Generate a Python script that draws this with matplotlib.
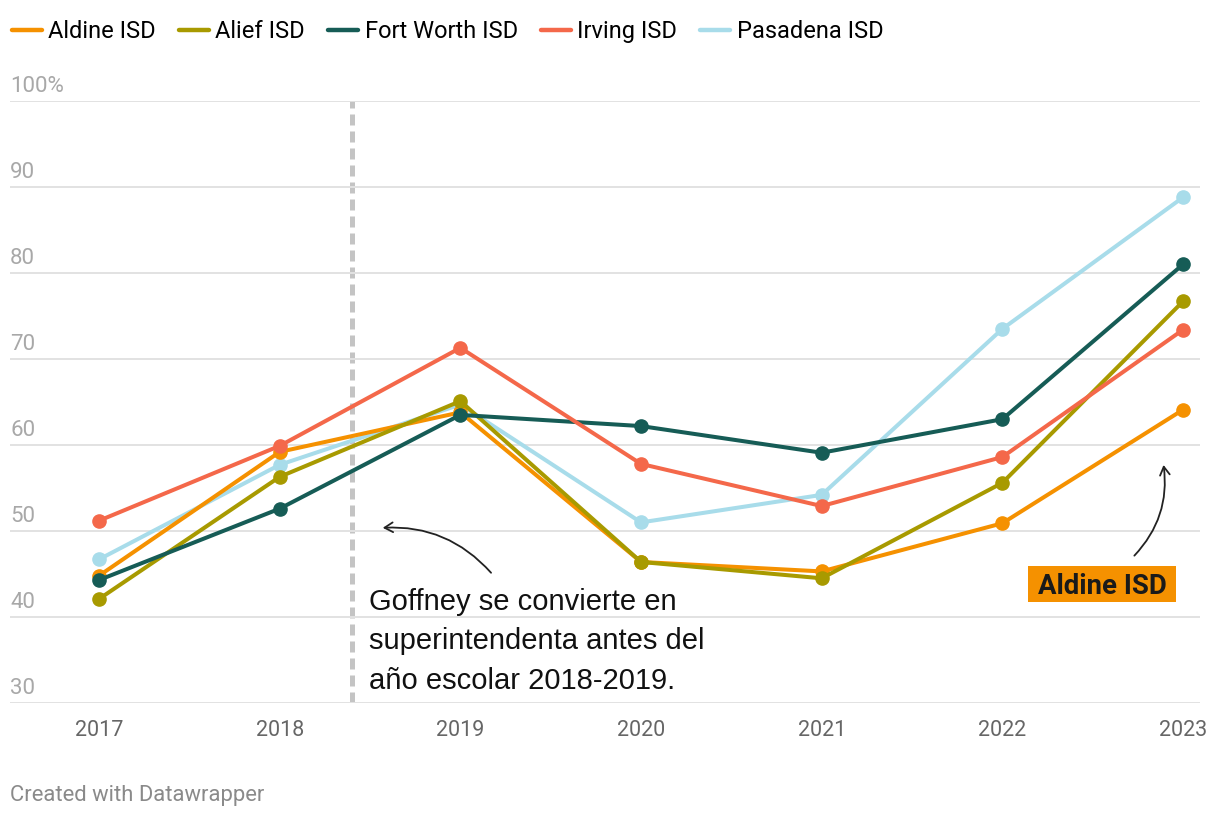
import matplotlib.pyplot as plt
import matplotlib.transforms as mtransforms
from matplotlib.patches import FancyArrowPatch, Rectangle
from matplotlib.lines import Line2D

# ── Data ────────────────────────────────────────────────────────────────────
years = [2017, 2018, 2019, 2020, 2021, 2022, 2023]

aldine    = [44.8, 59.2, 63.8, 46.4, 45.3, 50.9, 64.1]
alief     = [42.1, 56.3, 65.1, 46.4, 44.5, 55.6, 76.7]
fortworth = [44.3, 52.6, 63.5, 62.2, 59.1, 63.0, 81.0]
irving    = [51.2, 59.9, 71.3, 57.8, 52.9, 58.6, 73.4]
pasadena  = [46.7, 57.7, 64.7, 51.0, 54.2, 73.5, 88.8]

y_ticks = [30, 40, 50, 60, 70, 80, 90, 100]
y_tick_labels = ["30", "40", "50", "60", "70", "80", "90", "100%"]

SERIES = [
    ("Aldine ISD",     aldine,    "#f59100", 2),
    ("Alief ISD",      alief,     "#a89a00", 3),
    ("Fort Worth ISD", fortworth, "#165c56", 4),
    ("Irving ISD",     irving,    "#f4684a", 5),
    ("Pasadena ISD",   pasadena,  "#a8dcea", 1),
]

plt.rcParams["font.family"] = ["Roboto", "DejaVu Sans"]

fig = plt.figure(figsize=(12.2, 8.18), dpi=100)
ax = fig.add_axes([10 / 1220, 115 / 818, 1190 / 1220, 602 / 818])

for name, vals, col, z in SERIES:
    ax.plot(years, vals, color=col, linewidth=2.9, marker="o",
            markersize=9.5, zorder=z, solid_capstyle="round")

ax.set_xlim(2016.507, 2023.094)
ax.set_ylim(30, 100)

for s in ax.spines.values():
    s.set_visible(False)
ax.set_yticks(y_ticks)
ax.set_yticklabels([])
ax.tick_params(axis="y", length=0)
ax.grid(axis="y", color="#e2e2e2", linewidth=1.4, zorder=0)
ax.set_axisbelow(True)

ax.set_xticks(years)
ax.set_xticklabels([str(y) for y in years], fontsize=15.5, color="#666666")
ax.tick_params(axis="x", length=0, pad=12)

# y labels sit above the gridlines
trans = mtransforms.blended_transform_factory(ax.transAxes, ax.transData)
for v, lab in zip(y_ticks, y_tick_labels):
    ax.text(0, v + 1.05, lab, transform=trans, fontsize=16, color="#a8a8a8",
            ha="left", va="baseline")

# vertical marker for Goffney start
ax.axvline(2018.40, color="#c4c4c4", linewidth=3.6, linestyle=(0, (2.2, 1.2)), zorder=0.5)

# annotation text
ax.text(2018.494, 43.4, "Goffney se convierte en\nsuperintendenta antes del\naño escolar 2018-2019.",
        fontsize=21, family=["Liberation Sans", "DejaVu Sans"], color="#111111",
        ha="left", va="top", linespacing=1.52, zorder=6)

arr1 = FancyArrowPatch((2019.18, 44.9), (2018.555, 50.35),
                       connectionstyle="arc3,rad=0.25", arrowstyle="->,head_length=6,head_width=3.5",
                       color="#222222", linewidth=1.3, zorder=6)
ax.add_patch(arr1)

arr2 = FancyArrowPatch((2022.72, 46.9), (2022.89, 58.0),
                       connectionstyle="arc3,rad=0.25", arrowstyle="->,head_length=6,head_width=3.5",
                       color="#222222", linewidth=1.3, zorder=6)
ax.add_patch(arr2)

# "Aldine ISD" label box
ax.add_patch(Rectangle((2022.551 - 0.41, 43.84 - 2.09), 0.82, 4.18,
                       facecolor="#f59100", edgecolor="none", zorder=7))
ax.text(2022.551, 43.84, "Aldine ISD", fontsize=19.8, fontweight="bold", color="#1a1a1a",
        ha="center", va="center_baseline", zorder=8)

# legend on top (lines only)
handles = [Line2D([], [], color=col, linewidth=3.2, solid_capstyle="round")
           for _, _, col, _ in SERIES]
labels = [name for name, _, _, _ in SERIES]
fig.legend(handles, labels, loc="upper left",
           bbox_to_anchor=(12 / 1220, 1 - 20 / 818), ncol=5, frameon=False, fontsize=17,
           handlelength=1.27, handletextpad=0.27, columnspacing=0.98,
           borderpad=0, borderaxespad=0)

fig.text(10 / 1220, 1 - 795 / 818, "Created with Datawrapper", fontsize=15.8,
         color="#8a8a8a", ha="left", va="center")

plt.savefig("out.png", dpi=100)
